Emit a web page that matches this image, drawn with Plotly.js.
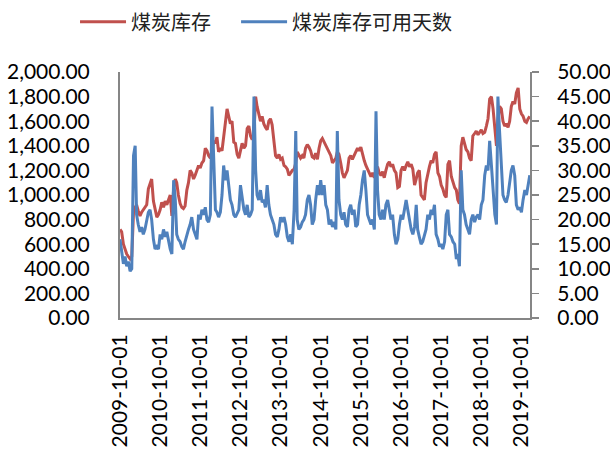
<!DOCTYPE html>
<html>
<head>
<meta charset="utf-8">
<script src="https://cdn.plot.ly/plotly-3.0.1.min.js"></script>
<style>html,body{margin:0;padding:0;background:#fff;}</style>
</head>
<body>
<div id="chart" style="width:610px;height:450px;"></div>
<script>
// Semi-monthly observations (1st and 16th of each month) from 2009-10-01 to 2019-12-16
const startYear = 2009, startMonth = 10, nPoints = 246;
const seriesNames = ["煤炭库存", "煤炭库存可用天数"];
const tickDates = ["2009-10-01","2010-10-01","2011-10-01","2012-10-01","2013-10-01","2014-10-01","2015-10-01","2016-10-01","2017-10-01","2018-10-01","2019-10-01"];

// 煤炭库存 (left axis)
const inventory = [
720,700,600,560,520,500,480,500,860,900,
920,870,830,860,880,900,920,1050,1100,1130,
950,870,820,840,880,940,900,950,920,960,
1000,830,1050,1130,1100,1000,930,900,890,910,
1040,1100,1200,1180,1130,1160,1200,1240,1220,1260,
1280,1380,1360,1320,1300,1380,1440,1420,1470,1350,
1380,1360,1460,1600,1700,1640,1580,1600,1430,1420,
1330,1300,1360,1420,1380,1400,1540,1560,1480,1450,
1500,1800,1720,1660,1600,1640,1580,1550,1530,1600,
1620,1570,1450,1320,1300,1330,1290,1300,1240,1230,
1210,1160,1180,1200,1210,1260,1350,1320,1300,1320,
1300,1380,1410,1390,1360,1310,1300,1340,1290,1380,
1440,1460,1430,1400,1380,1350,1320,1260,1280,1300,
1350,1330,1260,1180,1140,1170,1200,1300,1320,1290,
1330,1350,1380,1360,1390,1330,1280,1240,1210,1170,
1150,1180,1140,1200,1230,1180,1160,1190,1140,1200,
1250,1270,1230,1250,1200,1180,1060,1070,1200,1230,
1200,1240,1270,1230,1250,1210,1080,1130,1180,1200,
1000,980,960,1100,1180,1230,1280,1260,1330,1350,
1180,1150,1080,1050,1000,980,1250,1280,1150,1100,
1060,1040,960,930,1400,1470,1420,1370,1350,1300,
1280,1480,1500,1520,1490,1510,1530,1500,1510,1560,
1620,1780,1800,1700,1560,1400,1600,1720,1700,1600,
1560,1580,1550,1600,1720,1760,1740,1830,1870,1700,
1660,1640,1600,1590,1620,1640
];

// 煤炭库存可用天数 (right axis)
const days = [
16,13,11,12.5,10.5,11.5,9.5,10,33,35,
21,19,17.5,18.5,17,18,20,21.5,22,20,
16,14,14.5,14,17,16,18,16.5,17.5,15.5,
14,13,28,24,17,16,15.5,14.5,14,15.5,
17,18,19,20.5,18,17,16,21,20,22,
21,22.5,20,19.5,21,43,30,22,21.5,20.5,
21.5,25,31,28,30,27,24,23,21,20.5,
21.5,22,27,25,22,21,23,20.5,21,22,
45,30,25,24,26,23.5,24,22.5,27,23,
21,20,19,17,16.5,18,20.5,19.5,20.5,19,
16.5,15.5,17,15,22,38,20,18,18.5,19.5,
20,21,24,25,23,19,20,24,27,25,
28,25,27,23,22,19,20,18.5,19.5,18,
38,24,21,20,21.5,19,18.5,22,23,21,
22,18.5,19,23,25,28,30,26,21,20,
19,20,18,42,26,21,20,22,20,23,
24,22,20,21,17,15,16,19,21,20,
22,24,22,20,18,17,18.5,23,18,16.5,
15,15.5,17,18,21,20,22,21,23,17,
16,14.5,15,14,15.5,21,22,17,16.5,15.5,
15,12,13,10.5,30,22,21,19,18,17,
20,21,19.5,20.5,21,20,23,24,29,31,
30,36,31,26,21,19,45,38,30,25,
24,23.5,25,28,30,31,29,23,22,22.5,
21.5,24,26,25,27,29
];

const dates = [];
for (let i = 0; i < nPoints; i++) {
  const m0 = (startMonth - 1) + Math.floor(i / 2);
  const y = startYear + Math.floor(m0 / 12);
  const m = (m0 % 12) + 1;
  const d = (i % 2 === 0) ? "01" : "16";
  dates.push(y + "-" + String(m).padStart(2, "0") + "-" + d);
}

const traces = [
  {x: dates, y: inventory, name: seriesNames[0], type: "scatter", mode: "lines",
   line: {color: "#C0504D", width: 3}, yaxis: "y", legend: "legend"},
  {x: dates, y: days, name: seriesNames[1], type: "scatter", mode: "lines",
   line: {color: "#4F81BD", width: 3}, yaxis: "y2", legend: "legend2"}
];

const tickFont = {family: "Lato, 'Liberation Sans', sans-serif", size: 21, color: "#000"};
const legendFont = {family: "'Noto Sans CJK SC', sans-serif", size: 20, color: "#222"};

const layout = {
  width: 610, height: 450,
  margin: {l: 120, r: 80, t: 72, b: 132},
  paper_bgcolor: "#fff", plot_bgcolor: "#fff",
  showlegend: true,
  legend: {orientation: "h", xref: "container", yref: "container", x: 0.123, xanchor: "left",
           y: 0.995, yanchor: "top", font: legendFont, itemwidth: 46},
  legend2: {orientation: "h", xref: "container", yref: "container", x: 0.387, xanchor: "left",
           y: 0.995, yanchor: "top", font: legendFont, itemwidth: 46},
  xaxis: {type: "date", range: ["2009-10-01", "2019-12-18"],
          tickmode: "array", tickvals: tickDates, ticktext: tickDates,
          tickangle: -90, tickfont: tickFont, showgrid: false, zeroline: false,
          showline: true, linecolor: "#868686", linewidth: 2, ticks: "", ticklabelstandoff: 6},
  yaxis: {range: [0, 2000], tickvals: [0,200,400,600,800,1000,1200,1400,1600,1800,2000],
          tickformat: ",.2f", tickfont: tickFont, showgrid: false, zeroline: false,
          showline: true, linecolor: "#868686", linewidth: 2, ticks: "", ticklabelstandoff: 24},
  yaxis2: {range: [0, 50], tickvals: [0,5,10,15,20,25,30,35,40,45,50],
           tickformat: ".2f", tickfont: tickFont, overlaying: "y", side: "right",
           showgrid: false, zeroline: false, showline: true, linecolor: "#868686", linewidth: 2,
           ticks: "outside", ticklen: 7, tickwidth: 1.5, tickcolor: "#868686", ticklabelstandoff: 14}
};

Plotly.newPlot("chart", traces, layout, {displayModeBar: false, staticPlot: true});
</script>
</body>
</html>
